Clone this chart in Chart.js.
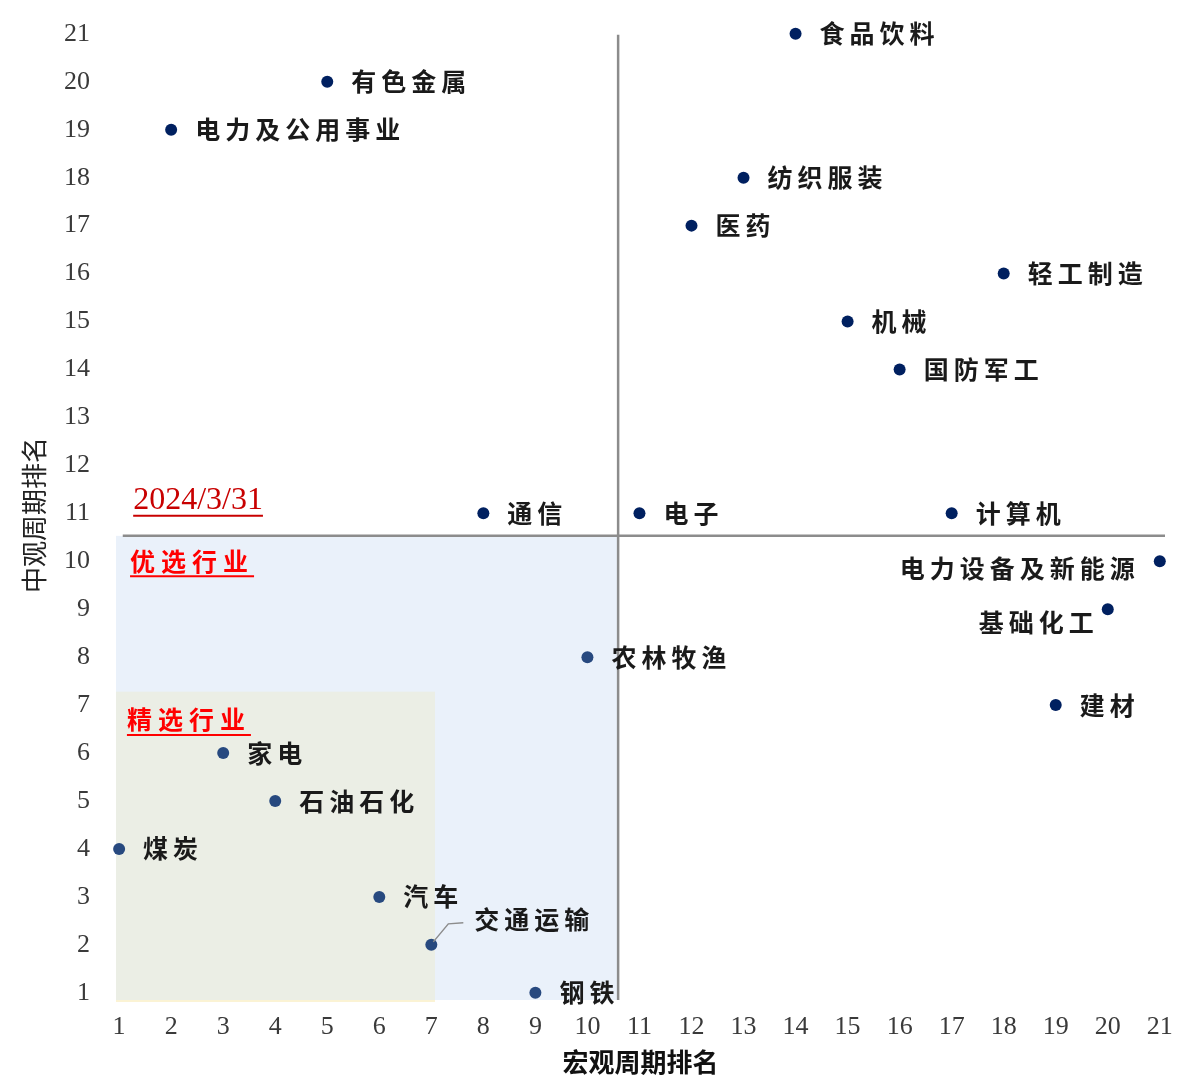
<!DOCTYPE html>
<html>
<head>
<meta charset="utf-8">
<script src="https://cdn.jsdelivr.net/npm/chart.js@4.4.1/dist/chart.umd.min.js"></script>
<style>
  html, body { margin: 0; padding: 0; background: #fff; }
  #wrap { width: 1188px; height: 1086px; }
</style>
</head>
<body>
<div id="wrap"><canvas id="rankChart"></canvas></div>
<script>
// 行业：宏观周期排名 (x) / 中观周期排名 (y)
const industries = ['食品饮料', '有色金属', '电力及公用事业', '纺织服装', '医药', '轻工制造', '机械', '国防军工',
    '通信', '电子', '计算机', '电力设备及新能源', '基础化工', '农林牧渔', '建材',
    '家电', '石油石化', '煤炭', '汽车', '交通运输', '钢铁'];
const macroRank = [14, 5, 2, 13, 12, 18, 15, 16, 8, 11, 17, 21, 20, 10, 19, 3, 4, 1, 6, 7, 9];
const mesoRank = [21, 20, 19, 18, 17, 16, 15, 14, 11, 11, 11, 10, 9, 8, 7, 6, 5, 4, 3, 2, 1];
const xTicks = [1, 2, 3, 4, 5, 6, 7, 8, 9, 10, 11, 12, 13, 14, 15, 16, 17, 18, 19, 20, 21];
const yTicks = [1, 2, 3, 4, 5, 6, 7, 8, 9, 10, 11, 12, 13, 14, 15, 16, 17, 18, 19, 20, 21];

// 分界线 / 区域边界（排名单位）
const splitX = 10.59;
const splitY = 10.53;
const selectX = 7.07;
const selectY = 7.28;

const cjk = '"Noto Sans CJK SC", sans-serif';
const serif = '"Liberation Serif", "Times New Roman", serif';

// label placement tweaks (pixels)
const labelPos = {
    '电力设备及新能源': { align: 'right', dx: -20, dy: 7 },
    '基础化工': { align: 'right', dx: -9, dy: 13 },
    '交通运输': { dx: 43, dy: -25, leader: true }
};

const quadrants = {
    id: 'quadrants',
    beforeDatasetsDraw(chart) {
        const { ctx, chartArea, scales: { x, y } } = chart;
        const left = chartArea.left, bottom = chartArea.bottom;
        ctx.save();
        // 优选行业 区域
        ctx.fillStyle = '#eaf1fa';
        ctx.fillRect(left, y.getPixelForValue(splitY), x.getPixelForValue(splitX) - left, bottom - y.getPixelForValue(splitY));
        // 精选行业 区域
        ctx.fillStyle = '#ebeee5';
        ctx.fillRect(left, y.getPixelForValue(selectY), x.getPixelForValue(selectX) - left, bottom - y.getPixelForValue(selectY));
        ctx.fillStyle = '#fbf3d4';
        ctx.fillRect(left, bottom, x.getPixelForValue(selectX) - left, 2);

        ctx.strokeStyle = '#8c8c8c';
        ctx.lineWidth = 2.5;
        ctx.beginPath();
        ctx.moveTo(x.getPixelForValue(splitX), y.getPixelForValue(21) + 1);
        ctx.lineTo(x.getPixelForValue(splitX), bottom);
        ctx.moveTo(x.getPixelForValue(1.07), y.getPixelForValue(splitY));
        ctx.lineTo(chartArea.right, y.getPixelForValue(splitY));
        ctx.stroke();

        // red notes
        const note = (text, vx, vy, font, color) => {
            ctx.font = font;
            ctx.fillStyle = color;
            ctx.textAlign = 'left';
            ctx.textBaseline = 'middle';
            const px = x.getPixelForValue(vx), py = y.getPixelForValue(vy);
            ctx.fillText(text, px, py);
            const w = ctx.measureText(text).width;
            ctx.strokeStyle = color;
            ctx.lineWidth = 2;
            ctx.beginPath();
            ctx.moveTo(px, py + 15);
            ctx.lineTo(px + w, py + 15);
            ctx.stroke();
        };
        ctx.letterSpacing = '0px';
        note('2024/3/31', 1.27, 11.26, '32px ' + serif, '#c80000');
        ctx.letterSpacing = '6px';
        note('优选行业', 1.21, 10.0, 'bold 25px ' + cjk, '#ff0000');
        note('精选行业', 1.15, 6.69, 'bold 25px ' + cjk, '#ff0000');
        ctx.restore();
    },
    afterDatasetsDraw(chart) {
        const { ctx } = chart;
        const pts = chart.getDatasetMeta(0).data;
        ctx.save();
        ctx.font = 'bold 25px ' + cjk;
        ctx.letterSpacing = '5px';
        ctx.fillStyle = '#1a1a1a';
        ctx.textBaseline = 'middle';
        pts.forEach((p, i) => {
            const name = industries[i];
            const o = labelPos[name] || {};
            const dx = o.dx !== undefined ? o.dx : 24;
            const dy = o.dy || 0;
            ctx.textAlign = o.align || 'left';
            ctx.fillText(name, p.x + dx, p.y + dy);
            if (o.leader) {
                ctx.strokeStyle = '#8c8c8c';
                ctx.lineWidth = 1.5;
                ctx.beginPath();
                ctx.moveTo(p.x + 2, p.y - 3);
                ctx.lineTo(p.x + 17, p.y - 21);
                ctx.lineTo(p.x + 32, p.y - 22);
                ctx.stroke();
            }
        });
        ctx.restore();
    }
};

new Chart(document.getElementById('rankChart'), {
    type: 'scatter',
    data: {
        datasets: [{
            data: industries.map((n, i) => ({ x: macroRank[i], y: mesoRank[i] })),
            backgroundColor: ctx => {
                const r = ctx.raw;
                return r && r.x < splitX && r.y < splitY ? '#27497f' : '#002060';
            },
            pointRadius: 6,
            pointHoverRadius: 6,
            borderWidth: 0,
            clip: false
        }]
    },
    options: {
        responsive: true,
        maintainAspectRatio: false,
        animation: false,
        layout: { autoPadding: false, padding: { top: 30, right: 23, left: 0, bottom: 0 } },
        plugins: { legend: { display: false }, tooltip: { enabled: false } },
        scales: {
            x: {
                type: 'linear',
                min: 0.94,
                max: 21.1,
                afterBuildTicks: s => { s.ticks = xTicks.map(v => ({ value: v })); },
                afterFit: s => { s.height = 86; },
                grid: { display: false, drawTicks: false },
                border: { display: false },
                ticks: {
                    autoSkip: false,
                    maxRotation: 0,
                    padding: 12,
                    color: '#3a3a3a',
                    font: { family: serif, size: 26 }
                },
                title: {
                    display: true,
                    text: '宏观周期排名',
                    color: '#111',
                    font: { family: cjk, size: 26, weight: 'bold' },
                    padding: { top: 0, bottom: 8 }
                }
            },
            y: {
                type: 'linear',
                min: 0.85,
                max: 21.08,
                afterBuildTicks: s => { s.ticks = yTicks.map(v => ({ value: v })); },
                afterFit: s => {
                    s.width = 116;
                    // tick padding would otherwise push the chart area down
                    s.paddingTop = 0;
                    s.paddingBottom = 0;
                },
                grid: { display: false, drawTicks: false },
                border: { display: false },
                ticks: {
                    autoSkip: false,
                    padding: 26,
                    color: '#3a3a3a',
                    font: { family: serif, size: 26 }
                },
                title: {
                    display: true,
                    text: '中观周期排名',
                    color: '#222',
                    font: { family: cjk, size: 26, weight: 'normal' },
                    padding: { top: 19, bottom: 0 }
                }
            }
        }
    },
    plugins: [quadrants]
});
</script>
</body>
</html>
